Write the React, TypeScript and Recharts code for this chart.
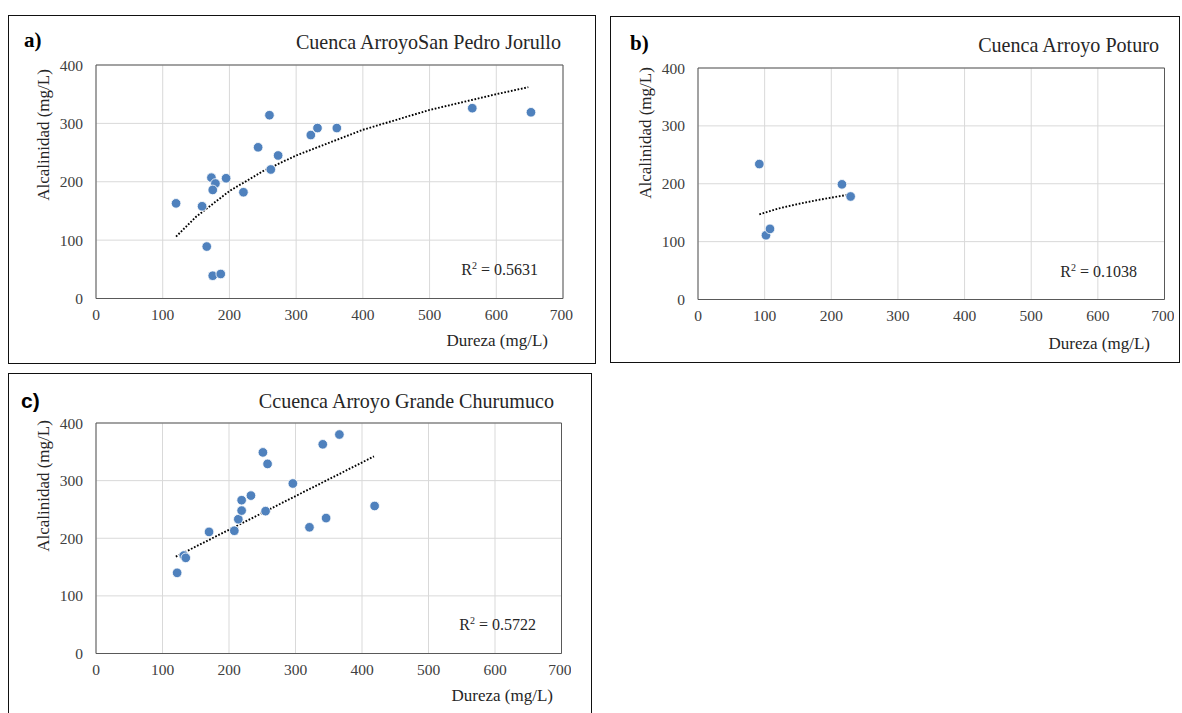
import React from 'react';
import { ScatterChart, Scatter, XAxis, YAxis, CartesianGrid, ReferenceArea } from 'recharts';

// a) Cuenca Arroyo San Pedro Jorullo
const aDureza = [120, 159, 166, 175, 187, 173, 179, 175, 195, 221, 243, 260, 262, 273, 322, 332, 361, 564, 652];
const aAlcalinidad = [163, 158, 89, 39, 42, 207, 197, 186, 206, 182, 259, 314, 221, 245, 280, 292, 292, 326, 319];
const aTrendX = [120, 150, 200, 250, 300, 400, 500, 600, 648];
const aTrendY = [106, 140, 184, 218, 245, 289, 323, 350, 362];

// b) Cuenca Arroyo Poturo
const bDureza = [92, 102, 108, 216, 229];
const bAlcalinidad = [234, 111, 122, 199, 178];
const bTrendX = [92, 120, 150, 180, 200, 225];
const bTrendY = [147, 157, 165, 172, 176, 181];

// c) Cuenca Arroyo Grande Churumuco
const cDureza = [122, 132, 135, 170, 208, 214, 219, 219, 233, 251, 258, 255, 296, 321, 341, 346, 366, 419];
const cAlcalinidad = [140, 170, 166, 211, 213, 233, 248, 266, 274, 349, 329, 247, 295, 219, 363, 235, 380, 256];
const cTrendX = [120, 418];
const cTrendY = [168, 342];

const xTicks = [0, 100, 200, 300, 400, 500, 600, 700];
const yTicks = [0, 100, 200, 300, 400];

const zip = (xs: number[], ys: number[]) => xs.map((x, i) => ({ x, y: ys[i] }));

const SERIF = '"Liberation Serif", "Times New Roman", serif';
const TEXT = '#262626';

const Dot = (props: any) => (
  <circle cx={props.cx} cy={props.cy} r={4.8} fill="#4F81BD" stroke="#fff" strokeWidth={0.8} />
);
const NoDot = () => <g />;

interface PanelProps {
  box: { left: number; top: number; width: number; height: number };
  plot: { left: number; top: number; right: number; bottom: number };
  points: { x: number; y: number }[];
  trend: { x: number; y: number }[];
  label: string;
  labelSans?: boolean;
  labelPos: [number, number];
  title: string;
  titlePos: [number, number];
  r2: string;
  r2Pos: [number, number];
  xTitlePos: [number, number];
  yTitlePos: [number, number];
}

const rightText = (text: React.ReactNode, right: number, cy: number, size: number, extra: React.CSSProperties = {}) => (
  <div
    style={{
      position: 'absolute', left: right - 400, width: 400, top: cy - size / 2, height: size,
      lineHeight: `${size}px`, fontSize: size, fontFamily: SERIF, color: TEXT, textAlign: 'right',
      whiteSpace: 'nowrap', ...extra,
    }}
  >
    {text}
  </div>
);

const Panel: React.FC<PanelProps> = (p) => {
  const w = p.plot.right - p.plot.left;
  const h = p.plot.bottom - p.plot.top;
  return (
    <>
      <div
        style={{
          position: 'absolute', left: p.box.left, top: p.box.top, width: p.box.width, height: p.box.height,
          border: '1.5px solid #111', boxSizing: 'border-box',
        }}
      />
      <div style={{ position: 'absolute', left: p.plot.left - 50, top: p.plot.top - 10 }}>
        <ScatterChart width={w + 60} height={h + 40} margin={{ top: 10, right: 10, bottom: 0, left: 0 }}>
          <CartesianGrid stroke="#d9d9d9" />
          <XAxis
            type="number" dataKey="x" domain={[0, 700]} ticks={xTicks} height={30}
            tickSize={0} tickMargin={10} axisLine={false}
            tick={{ fill: '#404040', fontSize: 15.5, fontFamily: SERIF }}
          />
          <YAxis
            type="number" dataKey="y" domain={[0, 400]} ticks={yTicks} width={50}
            tickSize={0} tickMargin={13} axisLine={false}
            tick={{ fill: '#404040', fontSize: 15.5, fontFamily: SERIF }}
          />
          <ReferenceArea x1={0} x2={700} y1={0} y2={400} fill="none" stroke="#595959" strokeWidth={1} fillOpacity={0} />
          <Scatter
            data={p.trend} shape={NoDot} lineType="joint" isAnimationActive={false}
            line={{ stroke: '#000', strokeWidth: 1.9, strokeDasharray: '1.7 1.7' }}
          />
          <Scatter data={p.points} shape={Dot} isAnimationActive={false} />
        </ScatterChart>
      </div>
      <div
        style={{
          position: 'absolute', left: p.labelPos[0], top: p.labelPos[1] - 11, height: 22, lineHeight: '22px',
          fontSize: 21, fontWeight: 'bold', color: '#000',
          fontFamily: p.labelSans ? '"Liberation Sans", Arial, sans-serif' : SERIF,
        }}
      >
        {p.label}
      </div>
      {rightText(p.title, p.titlePos[0], p.titlePos[1], 20.1)}
      {rightText(<>R<sup style={{ fontSize: 10, verticalAlign: 6 }}>2</sup> = {p.r2}</>, p.r2Pos[0], p.r2Pos[1], 16)}
      {rightText('Dureza (mg/L)', p.xTitlePos[0], p.xTitlePos[1], 17)}
      <div
        style={{
          position: 'absolute', left: p.yTitlePos[0] - 100, top: p.yTitlePos[1] - 9, width: 200, height: 18,
          lineHeight: '18px', fontSize: 17, fontFamily: SERIF, color: TEXT, textAlign: 'center',
          transform: 'rotate(-90deg)', whiteSpace: 'nowrap',
        }}
      >
        Alcalinidad (mg/L)
      </div>
    </>
  );
};

export default function App() {
  return (
    <div style={{ position: 'absolute', left: 0, top: 0, width: 1182, height: 713, overflow: 'hidden', background: '#fff' }}>
      <Panel
        box={{ left: 8, top: 15, width: 588, height: 349 }}
        plot={{ left: 96, top: 64.5, right: 563, bottom: 298 }}
        points={zip(aDureza, aAlcalinidad)}
        trend={zip(aTrendX, aTrendY)}
        label="a)" labelPos={[24, 40]}
        title="Cuenca ArroyoSan Pedro Jorullo" titlePos={[561, 42]}
        r2="0.5631" r2Pos={[538, 266]}
        xTitlePos={[548, 340]} yTitlePos={[44, 135]}
      />
      <Panel
        box={{ left: 610, top: 16, width: 570, height: 347 }}
        plot={{ left: 697.5, top: 67.5, right: 1164, bottom: 299 }}
        points={zip(bDureza, bAlcalinidad)}
        trend={zip(bTrendX, bTrendY)}
        label="b)" labelPos={[630, 43]}
        title="Cuenca Arroyo Poturo" titlePos={[1159, 45]}
        r2="0.1038" r2Pos={[1137, 268]}
        xTitlePos={[1150, 343]} yTitlePos={[646, 133]}
      />
      <Panel
        box={{ left: 8, top: 373, width: 584, height: 360 }}
        plot={{ left: 95.5, top: 422.5, right: 561, bottom: 653 }}
        points={zip(cDureza, cAlcalinidad)}
        trend={zip(cTrendX, cTrendY)}
        label="c)" labelSans labelPos={[21, 401]}
        title="Ccuenca Arroyo Grande Churumuco" titlePos={[554, 401]}
        r2="0.5722" r2Pos={[536, 621]}
        xTitlePos={[553, 695]} yTitlePos={[44, 486]}
      />
    </div>
  );
}
